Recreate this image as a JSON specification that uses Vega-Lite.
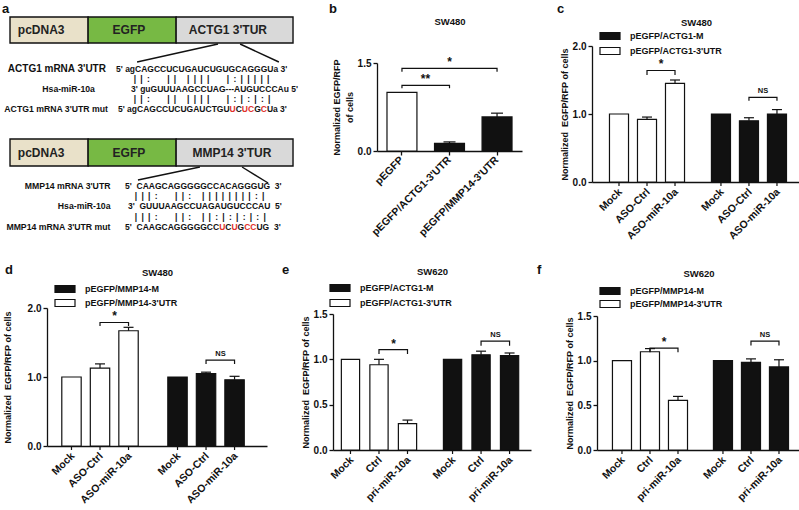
{
 "$schema": "https://vega.github.io/schema/vega-lite/v6.json",
 "background": "white",
 "padding": {"left": 2, "top": 3, "right": 0, "bottom": 0},
 "spacing": 22,
 "resolve": {"scale": {"fill": "independent", "color": "independent", "xOffset": "independent"}, "legend": {"fill": "independent", "color": "independent"}},
 "config": {
  "view": {"stroke": null},
  "font": "Liberation Sans",
  "axis": {"labelFont": "Liberation Sans", "labelFontWeight": "bold", "labelFontSize": 10, "labelColor": "#111", "titleFont": "Liberation Sans", "titleFontWeight": "bold", "titleFontSize": 9, "titleColor": "#111", "domainColor": "#111", "domainWidth": 1.3, "tickColor": "#111", "tickWidth": 1.3, "tickSize": 4, "grid": false, "labelPadding": 2, "titlePadding": 3},
  "legend": {"labelFont": "Liberation Sans", "labelFontWeight": "bold", "labelFontSize": 9, "labelColor": "#111", "symbolType": "M-2.5,-0.875H2.5V0.875H-2.5Z", "symbolSize": 64, "symbolOffset": 5, "labelOffset": 15, "symbolStrokeColor": "#111", "symbolStrokeWidth": 1.2, "padding": 0},
  "title": {"font": "Liberation Sans", "fontWeight": "bold", "fontSize": 13, "color": "#111"},
  "text": {"font": "Liberation Sans", "fontWeight": "bold", "color": "#111"}
 },
 "vconcat": [
  {"hconcat": [
   {
    "width": 260, "height": 136,
    "layer": [
     {"data": {"values": [
       {"row":"ACTG1","part":"pcDNA3","start":0,"end":27.6,"top":1.7,"bottom":4.3},
       {"row":"ACTG1","part":"EGFP","start":27.6,"end":58.7,"top":1.7,"bottom":4.3},
       {"row":"ACTG1","part":"UTR","start":58.7,"end":100,"top":1.7,"bottom":4.3},
       {"row":"MMP14","part":"pcDNA3","start":0,"end":27.6,"top":13.9,"bottom":16.6},
       {"row":"MMP14","part":"EGFP","start":27.6,"end":58.7,"top":13.9,"bottom":16.6},
       {"row":"MMP14","part":"UTR","start":58.7,"end":100,"top":13.9,"bottom":16.6}]},
      "mark": {"type":"rect","stroke":"#111","strokeWidth":1.4,"clip":false},
      "encoding": {
       "x": {"field":"start","type":"quantitative","scale":{"domain":[13.07,104.94],"nice":false,"zero":false},"axis":null},
       "x2": {"field":"end"},
       "y": {"field":"top","type":"quantitative","scale":{"domain":[4.6,18.2],"reverse":true,"nice":false,"zero":false},"axis":null},
       "y2": {"field":"bottom"},
       "fill": {"field":"part","type":"nominal","scale":{"domain":["pcDNA3","EGFP","UTR"],"range":["#e9e1c9","#77b944","#d9d9d9"]},"legend":null}}},
     {"data": {"values": [
       {"label":"pcDNA3","mid":11,"y":3.0},{"label":"EGFP","mid":42,"y":3.0},{"label":"ACTG1 3'TUR","mid":77,"y":3.0},
       {"label":"pcDNA3","mid":11,"y":15.25},{"label":"EGFP","mid":42,"y":15.25},{"label":"MMP14 3'TUR","mid":78.4,"y":15.25}]},
      "mark": {"type":"text","fontSize":12,"align":"center","baseline":"middle","color":"#222","clip":false},
      "encoding": {"x":{"field":"mid","type":"quantitative","axis":null},"y":{"field":"y","type":"quantitative","axis":null},"text":{"field":"label"}}},
     {"data": {"values": [
       {"x1":73.5,"y1":4.4,"x2":44.9,"y2":6.2},{"x1":81.3,"y1":4.4,"x2":95.0,"y2":6.2},
       {"x1":67.1,"y1":16.7,"x2":45.2,"y2":18.0},{"x1":82.0,"y1":16.7,"x2":91.2,"y2":18.3}]},
      "mark": {"type":"rule","color":"#111","strokeWidth":1.4,"clip":false},
      "encoding": {"x":{"field":"x1","type":"quantitative","axis":null},"x2":{"field":"x2"},"y":{"field":"y1","type":"quantitative","axis":null},"y2":{"field":"y2"}}},
     {"data": {"values": [{"t":"a","x":-2.83,"y":0.3}]},
      "mark": {"type":"text","fontSize":13,"align":"left","baseline":"top","clip":false},
      "encoding": {"x":{"field":"x","type":"quantitative","axis":null},"y":{"field":"y","type":"quantitative","axis":null},"text":{"field":"t"}}},
     {"data": {"values": [{"x":33.9,"y":6.9,"text":"ACTG1 mRNA 3'UTR"}]},
      "mark": {"type":"text","fontSize":10,"align":"right","baseline":"middle","clip":false},
      "encoding": {"x":{"field":"x","type":"quantitative","axis":null},"y":{"field":"y","type":"quantitative","axis":null},"text":{"field":"text"}}},
     {"data": {"values": [
       {"x":30.0,"y":8.9,"text":"Hsa-miR-10a"},
       {"x":34.6,"y":10.9,"text":"ACTG1 mRNA 3'UTR mut"},
       {"x":35.5,"y":18.6,"text":"MMP14 mRNA 3'UTR"},
       {"x":35.5,"y":20.6,"text":"Hsa-miR-10a"},
       {"x":35.5,"y":22.7,"text":"MMP14 mRNA 3'UTR mut"}]},
      "mark": {"type":"text","fontSize":8.7,"align":"right","baseline":"middle","clip":false},
      "encoding": {"x":{"field":"x","type":"quantitative","axis":null},"y":{"field":"y","type":"quantitative","axis":null},"text":{"field":"text"}}},
     {"data": {"values": [
       {"kind":"wt","x":37.46,"y":6.9,"text":"5' agCAGCCUCUGAUCUGUGCAGGGUa 3'"},
       {"kind":"wt","x":43.7,"y":7.9,"text":"\u2002|\u2002|\u2002:\u2002\u00a0\u2002\u00a0\u2002|\u2002|\u2002\u00a0\u2002|\u2002|\u2002|\u2002|\u2002\u00a0\u2002\u00a0\u2002|\u2002:\u2002|\u2002|\u2002|\u2002|\u2002|"},
       {"kind":"wt","x":42.76,"y":8.9,"text":"3' guGUUUAAGCCUAG---AUGUCCCAu 5'"},
       {"kind":"wt","x":43.7,"y":9.9,"text":"\u2002|\u2002|\u2002:\u2002\u00a0\u2002\u00a0\u2002|\u2002|\u2002\u00a0\u2002|\u2002|\u2002|\u2002|\u2002\u00a0\u2002\u00a0\u2002|\u2002:\u2002|\u2002:\u2002|\u2002:\u2002|"},
       {"kind":"wt","x":38.16,"y":10.9,"text":"5' agCAGCCUCUGAUCTGU"},
       {"kind":"mut","x":77.584,"y":10.9,"text":"U"},
       {"kind":"wt","x":79.752,"y":10.9,"text":"C"},
       {"kind":"mut","x":81.921,"y":10.9,"text":"UC"},
       {"kind":"wt","x":86.258,"y":10.9,"text":"G"},
       {"kind":"mut","x":88.595,"y":10.9,"text":"C"},
       {"kind":"wt","x":90.763,"y":10.9,"text":"Ua 3'"},
       {"kind":"wt","x":40.64,"y":18.6,"text":"5'\u00a0\u00a0CAAGCAGGGGGCCACAGGGUG\u00a0\u00a03'"},
       {"kind":"wt","x":44.1,"y":19.6,"text":"\u2002|\u2002|\u2002|\u2002:\u2002\u00a0\u2002\u00a0\u2002|\u2002|\u2002:\u2002\u00a0\u2002|\u2002|\u2002|\u2002|\u2002|\u2002|\u2002|\u2002|\u2002:\u2002|"},
       {"kind":"wt","x":41.7,"y":20.6,"text":"3'\u00a0\u00a0GUUUAAGCCUAGAUGUCCCAU\u00a0\u00a05'"},
       {"kind":"wt","x":44.1,"y":21.7,"text":"\u2002|\u2002|\u2002|\u2002:\u2002\u00a0\u2002\u00a0\u2002|\u2002|\u2002:\u2002\u00a0\u2002|\u2002|\u2002:\u2002|\u2002:\u2002|\u2002:\u2002|\u2002:\u2002|"},
       {"kind":"wt","x":40.64,"y":22.7,"text":"5'\u00a0\u00a0CAAGCAGGGGGCC"},
       {"kind":"mut","x":73.895,"y":22.7,"text":"U"},
       {"kind":"wt","x":76.063,"y":22.7,"text":"C"},
       {"kind":"mut","x":78.232,"y":22.7,"text":"U"},
       {"kind":"wt","x":80.4,"y":22.7,"text":"G"},
       {"kind":"mut","x":82.737,"y":22.7,"text":"CC"},
       {"kind":"wt","x":87.074,"y":22.7,"text":"UG\u00a0\u00a03'"}]},
      "mark": {"type":"text","fontSize":8.5,"align":"left","baseline":"middle","clip":false},
      "encoding": {"x":{"field":"x","type":"quantitative","axis":null},"y":{"field":"y","type":"quantitative","axis":null},"text":{"field":"text"},
        "color":{"field":"kind","type":"nominal","scale":{"domain":["wt","mut"],"range":["#111","#e0302a"]},"legend":null}}}
    ]
   },
   {
    "title": {"text": "b", "anchor": "start", "frame": "group", "offset": 0, "dx": -48},
    "width": 145, "height": 105,
    "data": {"values": [
     {"cond":"pEGFP","fk":"open","value":1.0,"upper":1.0},
     {"cond":"pEGFP/ACTG1-3'UTR","fk":"solid","value":0.13,"upper":0.155},
     {"cond":"pEGFP/MMP14-3'UTR","fk":"solid","value":0.58,"upper":0.645}]},
    "layer": [
     {"mark": {"type":"bar","stroke":"#111","strokeWidth":1.2,"opacity":1},
      "encoding": {
       "x": {"field":"cond","type":"nominal","scale":{"type":"band","domain":["pEGFP","pEGFP/ACTG1-3'UTR","pEGFP/MMP14-3'UTR"],"paddingInner":0.37,"paddingOuter":0.21},
             "axis":{"title":"SW480","titleY":-130,"titleBaseline":"middle","titleFontSize":9.5,"labelAngle":-45,"labelAlign":"right","labelBaseline":"middle","labelPadding":3,"labelFontSize":10.5}},
       "y": {"field":"value","type":"quantitative","stack":null,"scale":{"domain":[0,1.5],"range":[105,17],"nice":false},
             "axis":{"values":[0,0.5,1,1.5],"format":".1f","title":["Normalized EGFP/RFP","of cells"],"titleLineHeight":13}},
       "fill": {"field":"fk","type":"nominal","scale":{"domain":["open","solid"],"range":["white","#111"]},"legend":null}}},
     {"transform":[{"filter":"datum.upper > datum.value"}],
      "mark": {"type":"rule","color":"#111","strokeWidth":1.2},
      "encoding": {"x":{"field":"cond","type":"nominal"},"y":{"field":"value","type":"quantitative"},"y2":{"field":"upper"}}},
     {"transform":[{"filter":"datum.upper > datum.value"}],
      "mark": {"type":"tick","orient":"horizontal","size":12,"thickness":1.2,"color":"#111","opacity":1},
      "encoding": {"x":{"field":"cond","type":"nominal"},"y":{"field":"upper","type":"quantitative"}}},
     {"data": {"values": [
       {"id":1,"cond":"pEGFP","y":1.07,"seq":1},{"id":1,"cond":"pEGFP","y":1.12,"seq":2},
       {"id":1,"cond":"pEGFP/ACTG1-3'UTR","y":1.12,"seq":3},{"id":1,"cond":"pEGFP/ACTG1-3'UTR","y":1.07,"seq":4},
       {"id":2,"cond":"pEGFP","y":1.35,"seq":1},{"id":2,"cond":"pEGFP","y":1.41,"seq":2},
       {"id":2,"cond":"pEGFP/MMP14-3'UTR","y":1.41,"seq":3},{"id":2,"cond":"pEGFP/MMP14-3'UTR","y":1.35,"seq":4}]},
      "mark": {"type":"line","color":"#111","strokeWidth":1.2},
      "encoding": {"x":{"field":"cond","type":"nominal"},"y":{"field":"y","type":"quantitative"},"detail":{"field":"id"},"order":{"field":"seq"}}},
     {"data": {"values": [{"cond":"pEGFP/ACTG1-3'UTR","y":1.12,"label":"**"}]},
      "mark": {"type":"text","fontSize":12,"baseline":"alphabetic","dx":-24,"dy":-2},
      "encoding": {"x":{"field":"cond","type":"nominal"},"y":{"field":"y","type":"quantitative"},"text":{"field":"label"}}},
     {"data": {"values": [{"cond":"pEGFP/ACTG1-3'UTR","y":1.41,"label":"*"}]},
      "mark": {"type":"text","fontSize":12,"baseline":"alphabetic","dy":-2},
      "encoding": {"x":{"field":"cond","type":"nominal"},"y":{"field":"y","type":"quantitative"},"text":{"field":"label"}}}
    ]
   },
   {
    "title": {"text": "c", "anchor": "start", "frame": "group", "offset": 1, "dx": -35},
    "width": 208, "height": 136,
    "data": {"values": [
     {"grp":"pEGFP/ACTG1-3'UTR","cond":"Mock","value":1.0,"upper":1.0},
     {"grp":"pEGFP/ACTG1-3'UTR","cond":"ASO-Ctrl","value":0.92,"upper":0.955},
     {"grp":"pEGFP/ACTG1-3'UTR","cond":"ASO-miR-10a","value":1.45,"upper":1.5},
     {"grp":"pEGFP/ACTG1-M","cond":"Mock","value":1.0,"upper":1.0},
     {"grp":"pEGFP/ACTG1-M","cond":"ASO-Ctrl","value":0.9,"upper":0.945},
     {"grp":"pEGFP/ACTG1-M","cond":"ASO-miR-10a","value":1.0,"upper":1.065}]},
    "layer": [
     {"mark": {"type":"bar","stroke":"#111","strokeWidth":1.2,"opacity":1},
      "encoding": {
       "x": {"field":"grp","type":"nominal","scale":{"type":"band","domain":["pEGFP/ACTG1-3'UTR","pEGFP/ACTG1-M"],"paddingInner":0.176,"paddingOuter":0.108,"align":0.59},
             "axis":{"title":"SW480","titleY":-160,"titleBaseline":"middle","titleFontSize":9.5,"labels":false,"ticks":false}},
       "xOffset": {"field":"cond","type":"nominal","scale":{"domain":["Mock","ASO-Ctrl","ASO-miR-10a"],"paddingInner":0.32,"paddingOuter":0.16}},
       "y": {"field":"value","type":"quantitative","stack":null,"scale":{"domain":[0,2],"nice":false},"axis":{"values":[0,0.5,1,1.5,2],"format":".1f","title":"Normalized\u00a0 EGFP/RFP of cells"}},
       "fill": {"field":"grp","type":"nominal","scale":{"domain":["pEGFP/ACTG1-M","pEGFP/ACTG1-3'UTR"],"range":["#111","white"]},
                "legend":{"title":null,"orient":"none","legendX":8,"legendY":-15,"direction":"vertical","rowPadding":3}}}},
     {"transform":[{"filter":"datum.upper > datum.value"}],
      "mark": {"type":"rule","color":"#111","strokeWidth":1.2},
      "encoding": {"x":{"field":"grp","type":"nominal"},"xOffset":{"field":"cond","type":"nominal"},"y":{"field":"value","type":"quantitative"},"y2":{"field":"upper"}}},
     {"transform":[{"filter":"datum.upper > datum.value"}],
      "mark": {"type":"tick","orient":"horizontal","size":10,"thickness":1.2,"color":"#111","opacity":1},
      "encoding": {"x":{"field":"grp","type":"nominal"},"xOffset":{"field":"cond","type":"nominal"},"y":{"field":"upper","type":"quantitative"}}},
     {"mark": {"type":"tick","orient":"vertical","size":4,"thickness":1.2,"yOffset":2,"color":"#111","opacity":1},
      "encoding": {"x":{"field":"grp","type":"nominal"},"xOffset":{"field":"cond","type":"nominal"},"y":{"datum":0,"type":"quantitative"}}},
     {"mark": {"type":"text","angle":315,"align":"right","baseline":"middle","dx":-5,"dy":7,"fontSize":10.5},
      "encoding": {"x":{"field":"grp","type":"nominal"},"xOffset":{"field":"cond","type":"nominal"},"y":{"datum":0,"type":"quantitative"},"text":{"field":"cond"}}},
     {"data": {"values": [
       {"id":1,"grp":"pEGFP/ACTG1-3'UTR","cond":"ASO-Ctrl","y":1.575,"seq":1},{"id":1,"grp":"pEGFP/ACTG1-3'UTR","cond":"ASO-Ctrl","y":1.64,"seq":2},
       {"id":1,"grp":"pEGFP/ACTG1-3'UTR","cond":"ASO-miR-10a","y":1.64,"seq":3},{"id":1,"grp":"pEGFP/ACTG1-3'UTR","cond":"ASO-miR-10a","y":1.575,"seq":4},
       {"id":2,"grp":"pEGFP/ACTG1-M","cond":"ASO-Ctrl","y":1.195,"seq":1},{"id":2,"grp":"pEGFP/ACTG1-M","cond":"ASO-Ctrl","y":1.245,"seq":2},
       {"id":2,"grp":"pEGFP/ACTG1-M","cond":"ASO-miR-10a","y":1.245,"seq":3},{"id":2,"grp":"pEGFP/ACTG1-M","cond":"ASO-miR-10a","y":1.195,"seq":4}]},
      "mark": {"type":"line","color":"#111","strokeWidth":1.2},
      "encoding": {"x":{"field":"grp","type":"nominal"},"xOffset":{"field":"cond","type":"nominal"},"y":{"field":"y","type":"quantitative"},"detail":{"field":"id"},"order":{"field":"seq"}}},
     {"data": {"values": [{"grp":"pEGFP/ACTG1-3'UTR","cond":"ASO-miR-10a","y":1.64,"label":"*"}]},
      "mark": {"type":"text","fontSize":12,"baseline":"alphabetic","dx":-14,"dy":-2},
      "encoding": {"x":{"field":"grp","type":"nominal"},"xOffset":{"field":"cond","type":"nominal"},"y":{"field":"y","type":"quantitative"},"text":{"field":"label"}}},
     {"data": {"values": [{"grp":"pEGFP/ACTG1-M","cond":"ASO-miR-10a","y":1.245,"label":"NS"}]},
      "mark": {"type":"text","fontSize":7.5,"baseline":"alphabetic","dx":-14,"dy":-4},
      "encoding": {"x":{"field":"grp","type":"nominal"},"xOffset":{"field":"cond","type":"nominal"},"y":{"field":"y","type":"quantitative"},"text":{"field":"label"}}}
    ]
   }
  ], "spacing": 70, "bounds": "flush", "resolve": {"scale": {"fill": "independent", "color": "independent", "xOffset": "independent"}, "legend": {"fill": "independent", "color": "independent"}}},
  {"hconcat": [
   {
    "title": {"text": "d", "anchor": "start", "frame": "group", "offset": -10, "dx": -42},
    "width": 220, "height": 138,
    "data": {"values": [
     {"grp":"pEGFP/MMP14-3'UTR","cond":"Mock","value":1.0,"upper":1.0},
     {"grp":"pEGFP/MMP14-3'UTR","cond":"ASO-Ctrl","value":1.13,"upper":1.19},
     {"grp":"pEGFP/MMP14-3'UTR","cond":"ASO-miR-10a","value":1.67,"upper":1.72},
     {"grp":"pEGFP/MMP14-M","cond":"Mock","value":1.0,"upper":1.0},
     {"grp":"pEGFP/MMP14-M","cond":"ASO-Ctrl","value":1.05,"upper":1.07},
     {"grp":"pEGFP/MMP14-M","cond":"ASO-miR-10a","value":0.96,"upper":1.01}]},
    "layer": [
     {"mark": {"type":"bar","stroke":"#111","strokeWidth":1.2,"opacity":1},
      "encoding": {
       "x": {"field":"grp","type":"nominal","scale":{"type":"band","domain":["pEGFP/MMP14-3'UTR","pEGFP/MMP14-M"],"paddingInner":0.193,"paddingOuter":0.134,"align":0.36},
             "axis":{"title":"SW480","titleY":-174,"titleBaseline":"middle","titleFontSize":9.5,"labels":false,"ticks":false}},
       "xOffset": {"field":"cond","type":"nominal","scale":{"domain":["Mock","ASO-Ctrl","ASO-miR-10a"],"paddingInner":0.32,"paddingOuter":0.16}},
       "y": {"field":"value","type":"quantitative","stack":null,"scale":{"domain":[0,2],"nice":false},"axis":{"values":[0,0.5,1,1.5,2],"format":".1f","title":"Normalized\u00a0 EGFP/RFP of cells","titlePadding":15}},
       "fill": {"field":"grp","type":"nominal","scale":{"domain":["pEGFP/MMP14-M","pEGFP/MMP14-3'UTR"],"range":["#111","white"]},
                "legend":{"title":null,"orient":"none","legendX":8,"legendY":-24,"direction":"vertical","rowPadding":2}}}},
     {"transform":[{"filter":"datum.upper > datum.value"}],
      "mark": {"type":"rule","color":"#111","strokeWidth":1.2},
      "encoding": {"x":{"field":"grp","type":"nominal"},"xOffset":{"field":"cond","type":"nominal"},"y":{"field":"value","type":"quantitative"},"y2":{"field":"upper"}}},
     {"transform":[{"filter":"datum.upper > datum.value"}],
      "mark": {"type":"tick","orient":"horizontal","size":10,"thickness":1.2,"color":"#111","opacity":1},
      "encoding": {"x":{"field":"grp","type":"nominal"},"xOffset":{"field":"cond","type":"nominal"},"y":{"field":"upper","type":"quantitative"}}},
     {"mark": {"type":"tick","orient":"vertical","size":4,"thickness":1.2,"yOffset":2,"color":"#111","opacity":1},
      "encoding": {"x":{"field":"grp","type":"nominal"},"xOffset":{"field":"cond","type":"nominal"},"y":{"datum":0,"type":"quantitative"}}},
     {"mark": {"type":"text","angle":315,"align":"right","baseline":"middle","dx":-5,"dy":7,"fontSize":10.5},
      "encoding": {"x":{"field":"grp","type":"nominal"},"xOffset":{"field":"cond","type":"nominal"},"y":{"datum":0,"type":"quantitative"},"text":{"field":"cond"}}},
     {"data": {"values": [
       {"id":1,"grp":"pEGFP/MMP14-3'UTR","cond":"ASO-Ctrl","y":1.74,"seq":1},{"id":1,"grp":"pEGFP/MMP14-3'UTR","cond":"ASO-Ctrl","y":1.79,"seq":2},
       {"id":1,"grp":"pEGFP/MMP14-3'UTR","cond":"ASO-miR-10a","y":1.79,"seq":3},{"id":1,"grp":"pEGFP/MMP14-3'UTR","cond":"ASO-miR-10a","y":1.74,"seq":4},
       {"id":2,"grp":"pEGFP/MMP14-M","cond":"ASO-Ctrl","y":1.19,"seq":1},{"id":2,"grp":"pEGFP/MMP14-M","cond":"ASO-Ctrl","y":1.245,"seq":2},
       {"id":2,"grp":"pEGFP/MMP14-M","cond":"ASO-miR-10a","y":1.245,"seq":3},{"id":2,"grp":"pEGFP/MMP14-M","cond":"ASO-miR-10a","y":1.19,"seq":4}]},
      "mark": {"type":"line","color":"#111","strokeWidth":1.2},
      "encoding": {"x":{"field":"grp","type":"nominal"},"xOffset":{"field":"cond","type":"nominal"},"y":{"field":"y","type":"quantitative"},"detail":{"field":"id"},"order":{"field":"seq"}}},
     {"data": {"values": [{"grp":"pEGFP/MMP14-3'UTR","cond":"ASO-miR-10a","y":1.79,"label":"*"}]},
      "mark": {"type":"text","fontSize":12,"baseline":"alphabetic","dx":-14,"dy":-2},
      "encoding": {"x":{"field":"grp","type":"nominal"},"xOffset":{"field":"cond","type":"nominal"},"y":{"field":"y","type":"quantitative"},"text":{"field":"label"}}},
     {"data": {"values": [{"grp":"pEGFP/MMP14-M","cond":"ASO-miR-10a","y":1.245,"label":"NS"}]},
      "mark": {"type":"text","fontSize":7.5,"baseline":"alphabetic","dx":-14,"dy":-4},
      "encoding": {"x":{"field":"grp","type":"nominal"},"xOffset":{"field":"cond","type":"nominal"},"y":{"field":"y","type":"quantitative"},"text":{"field":"label"}}}
    ]
   },
   {
    "title": {"text": "e", "anchor": "start", "frame": "group", "offset": -11, "dx": -51},
    "width": 198, "height": 142,
    "data": {"values": [
     {"grp":"pEGFP/ACTG1-3'UTR","cond":"Mock","value":1.0,"upper":1.0},
     {"grp":"pEGFP/ACTG1-3'UTR","cond":"Ctrl","value":0.94,"upper":1.0},
     {"grp":"pEGFP/ACTG1-3'UTR","cond":"pri-miR-10a","value":0.29,"upper":0.33},
     {"grp":"pEGFP/ACTG1-M","cond":"Mock","value":1.0,"upper":1.0},
     {"grp":"pEGFP/ACTG1-M","cond":"Ctrl","value":1.05,"upper":1.09},
     {"grp":"pEGFP/ACTG1-M","cond":"pri-miR-10a","value":1.04,"upper":1.07}]},
    "layer": [
     {"mark": {"type":"bar","stroke":"#111","strokeWidth":1.2,"opacity":1},
      "encoding": {
       "x": {"field":"grp","type":"nominal","scale":{"type":"band","domain":["pEGFP/ACTG1-3'UTR","pEGFP/ACTG1-M"],"paddingInner":0.162,"paddingOuter":0.051,"align":0.31},
             "axis":{"title":"SW620","titleY":-179,"titleBaseline":"middle","titleFontSize":9.5,"labels":false,"ticks":false}},
       "xOffset": {"field":"cond","type":"nominal","scale":{"domain":["Mock","Ctrl","pri-miR-10a"],"paddingInner":0.36,"paddingOuter":0.18}},
       "y": {"field":"value","type":"quantitative","stack":null,"scale":{"domain":[0,1.5],"range":[142,6],"nice":false},"axis":{"values":[0,0.5,1,1.5],"format":".1f","title":"Normalized\u00a0 EGFP/RFP of cells"}},
       "fill": {"field":"grp","type":"nominal","scale":{"domain":["pEGFP/ACTG1-M","pEGFP/ACTG1-3'UTR"],"range":["#111","white"]},
                "legend":{"title":null,"orient":"none","legendX":-3,"legendY":-25,"direction":"vertical","rowPadding":3}}}},
     {"transform":[{"filter":"datum.upper > datum.value"}],
      "mark": {"type":"rule","color":"#111","strokeWidth":1.2},
      "encoding": {"x":{"field":"grp","type":"nominal"},"xOffset":{"field":"cond","type":"nominal"},"y":{"field":"value","type":"quantitative"},"y2":{"field":"upper"}}},
     {"transform":[{"filter":"datum.upper > datum.value"}],
      "mark": {"type":"tick","orient":"horizontal","size":10,"thickness":1.2,"color":"#111","opacity":1},
      "encoding": {"x":{"field":"grp","type":"nominal"},"xOffset":{"field":"cond","type":"nominal"},"y":{"field":"upper","type":"quantitative"}}},
     {"mark": {"type":"tick","orient":"vertical","size":4,"thickness":1.2,"yOffset":2,"color":"#111","opacity":1},
      "encoding": {"x":{"field":"grp","type":"nominal"},"xOffset":{"field":"cond","type":"nominal"},"y":{"datum":0,"type":"quantitative"}}},
     {"mark": {"type":"text","angle":315,"align":"right","baseline":"middle","dx":-5,"dy":7,"fontSize":10.5},
      "encoding": {"x":{"field":"grp","type":"nominal"},"xOffset":{"field":"cond","type":"nominal"},"y":{"datum":0,"type":"quantitative"},"text":{"field":"cond"}}},
     {"data": {"values": [
       {"id":1,"grp":"pEGFP/ACTG1-3'UTR","cond":"Ctrl","y":1.06,"seq":1},{"id":1,"grp":"pEGFP/ACTG1-3'UTR","cond":"Ctrl","y":1.106,"seq":2},
       {"id":1,"grp":"pEGFP/ACTG1-3'UTR","cond":"pri-miR-10a","y":1.106,"seq":3},{"id":1,"grp":"pEGFP/ACTG1-3'UTR","cond":"pri-miR-10a","y":1.06,"seq":4},
       {"id":2,"grp":"pEGFP/ACTG1-M","cond":"Ctrl","y":1.15,"seq":1},{"id":2,"grp":"pEGFP/ACTG1-M","cond":"Ctrl","y":1.2,"seq":2},
       {"id":2,"grp":"pEGFP/ACTG1-M","cond":"pri-miR-10a","y":1.2,"seq":3},{"id":2,"grp":"pEGFP/ACTG1-M","cond":"pri-miR-10a","y":1.15,"seq":4}]},
      "mark": {"type":"line","color":"#111","strokeWidth":1.2},
      "encoding": {"x":{"field":"grp","type":"nominal"},"xOffset":{"field":"cond","type":"nominal"},"y":{"field":"y","type":"quantitative"},"detail":{"field":"id"},"order":{"field":"seq"}}},
     {"data": {"values": [{"grp":"pEGFP/ACTG1-3'UTR","cond":"pri-miR-10a","y":1.106,"label":"*"}]},
      "mark": {"type":"text","fontSize":12,"baseline":"alphabetic","dx":-14,"dy":-2},
      "encoding": {"x":{"field":"grp","type":"nominal"},"xOffset":{"field":"cond","type":"nominal"},"y":{"field":"y","type":"quantitative"},"text":{"field":"label"}}},
     {"data": {"values": [{"grp":"pEGFP/ACTG1-M","cond":"pri-miR-10a","y":1.2,"label":"NS"}]},
      "mark": {"type":"text","fontSize":7.5,"baseline":"alphabetic","dx":-14,"dy":-4},
      "encoding": {"x":{"field":"grp","type":"nominal"},"xOffset":{"field":"cond","type":"nominal"},"y":{"field":"y","type":"quantitative"},"text":{"field":"label"}}}
    ]
   },
   {
    "title": {"text": "f", "anchor": "start", "frame": "group", "offset": -9, "dx": -60},
    "width": 203, "height": 142,
    "data": {"values": [
     {"grp":"pEGFP/MMP14-3'UTR","cond":"Mock","value":1.0,"upper":1.0},
     {"grp":"pEGFP/MMP14-3'UTR","cond":"Ctrl","value":1.1,"upper":1.135},
     {"grp":"pEGFP/MMP14-3'UTR","cond":"pri-miR-10a","value":0.555,"upper":0.6},
     {"grp":"pEGFP/MMP14-M","cond":"Mock","value":1.0,"upper":1.0},
     {"grp":"pEGFP/MMP14-M","cond":"Ctrl","value":0.98,"upper":1.02},
     {"grp":"pEGFP/MMP14-M","cond":"pri-miR-10a","value":0.93,"upper":1.01}]},
    "layer": [
     {"mark": {"type":"bar","stroke":"#111","strokeWidth":1.2,"opacity":1},
      "encoding": {
       "x": {"field":"grp","type":"nominal","scale":{"type":"band","domain":["pEGFP/MMP14-3'UTR","pEGFP/MMP14-M"],"paddingInner":0.168,"paddingOuter":0.089,"align":0.61},
             "axis":{"title":"SW620","titleY":-177,"titleBaseline":"middle","titleFontSize":9.5,"labels":false,"ticks":false}},
       "xOffset": {"field":"cond","type":"nominal","scale":{"domain":["Mock","Ctrl","pri-miR-10a"],"paddingInner":0.32,"paddingOuter":0.16}},
       "y": {"field":"value","type":"quantitative","stack":null,"scale":{"domain":[0,1.5],"range":[142,8],"nice":false},"axis":{"values":[0,0.5,1,1.5],"format":".1f","title":"Normalized\u00a0 EGFP/RFP of cells"}},
       "fill": {"field":"grp","type":"nominal","scale":{"domain":["pEGFP/MMP14-M","pEGFP/MMP14-3'UTR"],"range":["#111","white"]},
                "legend":{"title":null,"orient":"none","legendX":3,"legendY":-22,"direction":"vertical","rowPadding":1}}}},
     {"transform":[{"filter":"datum.upper > datum.value"}],
      "mark": {"type":"rule","color":"#111","strokeWidth":1.2},
      "encoding": {"x":{"field":"grp","type":"nominal"},"xOffset":{"field":"cond","type":"nominal"},"y":{"field":"value","type":"quantitative"},"y2":{"field":"upper"}}},
     {"transform":[{"filter":"datum.upper > datum.value"}],
      "mark": {"type":"tick","orient":"horizontal","size":10,"thickness":1.2,"color":"#111","opacity":1},
      "encoding": {"x":{"field":"grp","type":"nominal"},"xOffset":{"field":"cond","type":"nominal"},"y":{"field":"upper","type":"quantitative"}}},
     {"mark": {"type":"tick","orient":"vertical","size":4,"thickness":1.2,"yOffset":2,"color":"#111","opacity":1},
      "encoding": {"x":{"field":"grp","type":"nominal"},"xOffset":{"field":"cond","type":"nominal"},"y":{"datum":0,"type":"quantitative"}}},
     {"mark": {"type":"text","angle":315,"align":"right","baseline":"middle","dx":-5,"dy":7,"fontSize":10.5},
      "encoding": {"x":{"field":"grp","type":"nominal"},"xOffset":{"field":"cond","type":"nominal"},"y":{"datum":0,"type":"quantitative"},"text":{"field":"cond"}}},
     {"data": {"values": [
       {"id":1,"grp":"pEGFP/MMP14-3'UTR","cond":"Ctrl","y":1.095,"seq":1},{"id":1,"grp":"pEGFP/MMP14-3'UTR","cond":"Ctrl","y":1.14,"seq":2},
       {"id":1,"grp":"pEGFP/MMP14-3'UTR","cond":"pri-miR-10a","y":1.14,"seq":3},{"id":1,"grp":"pEGFP/MMP14-3'UTR","cond":"pri-miR-10a","y":1.095,"seq":4},
       {"id":2,"grp":"pEGFP/MMP14-M","cond":"Ctrl","y":1.17,"seq":1},{"id":2,"grp":"pEGFP/MMP14-M","cond":"Ctrl","y":1.218,"seq":2},
       {"id":2,"grp":"pEGFP/MMP14-M","cond":"pri-miR-10a","y":1.218,"seq":3},{"id":2,"grp":"pEGFP/MMP14-M","cond":"pri-miR-10a","y":1.17,"seq":4}]},
      "mark": {"type":"line","color":"#111","strokeWidth":1.2},
      "encoding": {"x":{"field":"grp","type":"nominal"},"xOffset":{"field":"cond","type":"nominal"},"y":{"field":"y","type":"quantitative"},"detail":{"field":"id"},"order":{"field":"seq"}}},
     {"data": {"values": [{"grp":"pEGFP/MMP14-3'UTR","cond":"pri-miR-10a","y":1.14,"label":"*"}]},
      "mark": {"type":"text","fontSize":12,"baseline":"alphabetic","dx":-14,"dy":-2},
      "encoding": {"x":{"field":"grp","type":"nominal"},"xOffset":{"field":"cond","type":"nominal"},"y":{"field":"y","type":"quantitative"},"text":{"field":"label"}}},
     {"data": {"values": [{"grp":"pEGFP/MMP14-M","cond":"pri-miR-10a","y":1.218,"label":"NS"}]},
      "mark": {"type":"text","fontSize":7.5,"baseline":"alphabetic","dx":-14,"dy":-4},
      "encoding": {"x":{"field":"grp","type":"nominal"},"xOffset":{"field":"cond","type":"nominal"},"y":{"field":"y","type":"quantitative"},"text":{"field":"label"}}}
    ]
   }
  ], "spacing": 66, "bounds": "flush", "resolve": {"scale": {"fill": "independent", "color": "independent", "xOffset": "independent"}, "legend": {"fill": "independent", "color": "independent"}}}
 ]
}
